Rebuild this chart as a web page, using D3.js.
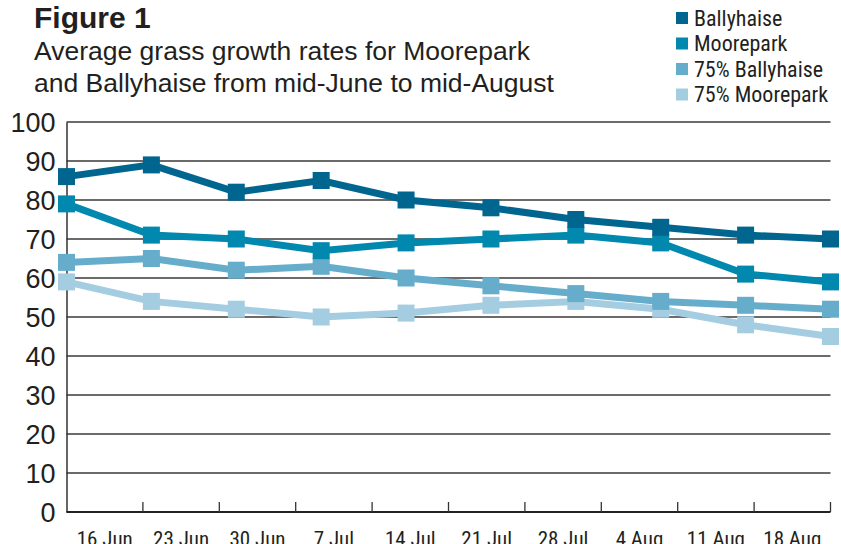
<!DOCTYPE html>
<html><head><meta charset="utf-8">
<script src="https://cdn.jsdelivr.net/npm/d3@7/dist/d3.min.js"></script>
<style>body{margin:0;background:#fff}svg{display:block}</style>
</head><body>
<svg id="c" width="841" height="544"></svg>
<script>
const categories = ["16 Jun","23 Jun","30 Jun","7 Jul","14 Jul","21 Jul","28 Jul","4 Aug","11 Aug","18 Aug"];
const ballyhaise = [86, 89, 82, 85, 80, 78, 75, 73, 71, 70];
const moorepark = [79, 71, 70, 67, 69, 70, 71, 69, 61, 59];
const ballyhaise75 = [64, 65, 62, 63, 60, 58, 56, 54, 53, 52];
const moorepark75 = [59, 54, 52, 50, 51, 53, 54, 52, 48, 45];
const seriesNames = ["Ballyhaise","Moorepark","75% Ballyhaise","75% Moorepark"];
const yTicks = [0,10,20,30,40,50,60,70,80,90,100];

const colors = ["#00668f","#0088ae","#66adcc","#a5cde2"];
const seriesData = [ballyhaise, moorepark, ballyhaise75, moorepark75];

const svg = d3.select("#c");
const L = 66.5, R = 830.5, T = 122, B = 512;
const y = d3.scaleLinear().domain([0,100]).range([B,T]);
const xBand = d3.scaleBand().domain(categories).range([L,R]).padding(0);
const xPt = d3.scalePoint().domain(categories).range([L,R]);

const narrow = "'Liberation Sans Narrow','Arial Narrow','Roboto Condensed',sans-serif";
const sans = "'Liberation Sans',Arial,Helvetica,sans-serif";

// Title
svg.append("text").attr("x",34).attr("y",28).attr("font-family",sans).attr("font-weight","bold")
  .attr("font-size",30).attr("fill","#231f20").text("Figure 1");
svg.append("text").attr("x",34).attr("y",60).attr("font-family",sans)
  .attr("font-size",26.5).attr("fill","#231f20").text("Average grass growth rates for Moorepark");
svg.append("text").attr("x",34).attr("y",92).attr("font-family",sans)
  .attr("font-size",26.5).attr("fill","#231f20").text("and Ballyhaise from mid-June to mid-August");

// Gridlines
svg.append("g").selectAll("line").data(yTicks.filter(d=>d>0)).join("line")
  .attr("x1",L).attr("x2",R).attr("y1",d=>y(d)).attr("y2",d=>y(d))
  .attr("stroke","#3a3a3a").attr("stroke-width",1.3);

// Y axis
const yAxis = d3.axisLeft(y).tickValues(yTicks).tickSize(0).tickPadding(11);
const gy = svg.append("g").attr("transform",`translate(${L},0)`).call(yAxis);
gy.select(".domain").attr("stroke","#333").attr("stroke-width",1.5);
gy.selectAll("text").attr("font-family",sans).attr("font-size",27).attr("fill","#231f20").attr("dy","0.36em");

// X axis: tick marks at band edges, labels at band centers
const xAxisG = svg.append("g");
xAxisG.append("line").attr("x1",L).attr("x2",R).attr("y1",B).attr("y2",B)
  .attr("stroke","#222").attr("stroke-width",2);
const edges = categories.map(c=>xBand(c)).concat([R]);
xAxisG.selectAll("line.tk").data(edges.slice(1)).join("line").attr("class","tk")
  .attr("x1",d=>d).attr("x2",d=>d).attr("y1",B).attr("y2",B-10)
  .attr("stroke","#333").attr("stroke-width",1.3);
xAxisG.selectAll("text").data(categories).join("text")
  .attr("x",d=>xBand(d)+xBand.bandwidth()/2).attr("y",546)
  .attr("text-anchor","middle").attr("font-family",narrow).attr("font-size",21)
  .attr("fill","#231f20").text(d=>d);

// Lines + markers (draw lightest first so darker on top)
const line = d3.line().x((d,i)=>xPt(categories[i])).y(d=>y(d));
const order = [3,2,1,0];
order.forEach(si=>{
  const g = svg.append("g");
  g.append("path").datum(seriesData[si]).attr("d",line).attr("fill","none")
    .attr("stroke",colors[si]).attr("stroke-width",7).attr("stroke-linejoin","miter");
  g.selectAll("rect").data(seriesData[si]).join("rect")
    .attr("x",(d,i)=>xPt(categories[i])-8.5).attr("y",d=>y(d)-8.5)
    .attr("width",17).attr("height",17).attr("fill",colors[si]);
});

// Legend
const lg = svg.append("g");
seriesNames.forEach((n,i)=>{
  const cy = 18 + i*25.5;
  lg.append("rect").attr("x",676).attr("y",cy-6).attr("width",12).attr("height",12).attr("fill",colors[i]);
  lg.append("text").attr("x",694).attr("y",cy).attr("dy","0.36em").attr("font-family",narrow)
    .attr("font-size",22).attr("fill","#231f20").text(n);
});
</script>
</body></html>
